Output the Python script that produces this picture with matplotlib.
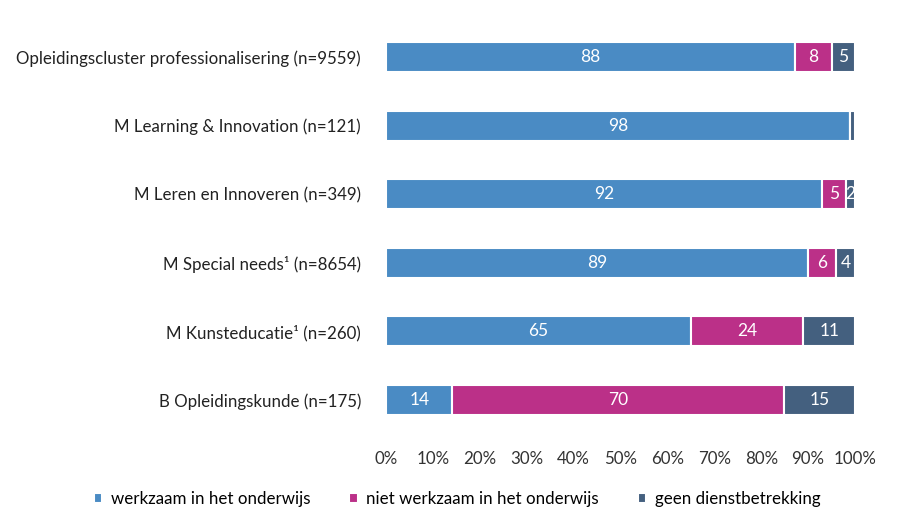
import matplotlib
matplotlib.use('Agg')
import matplotlib.pyplot as plt
import numpy as np

# Data
categorieen = [
    'Opleidingscluster professionalisering (n=9559)',
    'M Learning & Innovation (n=121)',
    'M Leren en Innoveren (n=349)',
    'M Special needs¹ (n=8654)',
    'M Kunsteducatie¹ (n=260)',
    'B Opleidingskunde (n=175)',
]
werkzaam = [88, 98, 92, 89, 65, 14]
niet_werkzaam = [8, 0, 5, 6, 24, 70]
geen_dienst = [5, 1, 2, 4, 11, 15]

reeksen = ['werkzaam in het onderwijs', 'niet werkzaam in het onderwijs', 'geen dienstbetrekking']
kleuren = ['#4A8BC4', '#BB3088', '#44607F']

plt.rcParams['font.family'] = ['Lato', 'DejaVu Sans']

fig = plt.figure(figsize=(9, 5.3), dpi=100)
ax = fig.add_axes([0.429, 0.181, 0.521, 0.776])

# 100% gestapeld: elke rij genormaliseerd naar 100
data = np.array([werkzaam, niet_werkzaam, geen_dienst], dtype=float)
totaal = data.sum(axis=0)

y = np.arange(len(categorieen))
links = np.zeros(len(categorieen))
for naam, waarden, kleur in zip(reeksen, data, kleuren):
    breedte = waarden / totaal * 100
    ax.barh(y, breedte, left=links, height=0.44, color=kleur, edgecolor='white',
            linewidth=1.5, label=naam)
    for yi, l, b, w in zip(y, links, breedte, waarden):
        if w >= 2:
            ax.text(l + b / 2, yi, f"{int(w)}", ha='center', va='center',
                    color='white', fontsize=12.5)
    links += breedte

ax.set_xlim(0, 100)
ax.set_ylim(len(categorieen) - 0.5, -0.5)
ax.set_yticks(y)
ax.set_yticklabels(categorieen, fontsize=12.2, color='#222222')
ax.set_xticks(np.arange(0, 101, 10))
ax.set_xticklabels([f"{v}%" for v in range(0, 101, 10)], fontsize=12.2, color='#333333')
ax.tick_params(axis='both', length=0)
ax.tick_params(axis='x', pad=12)
ax.tick_params(axis='y', pad=18)
for s in ax.spines.values():
    s.set_visible(False)

leg = fig.legend(loc='center', bbox_to_anchor=(0.508, 0.058), ncol=3, frameon=False,
                 fontsize=12.2, handlelength=0.5, handleheight=0.5, handletextpad=0.5,
                 columnspacing=2.3)

plt.savefig('out.png', dpi=100)
